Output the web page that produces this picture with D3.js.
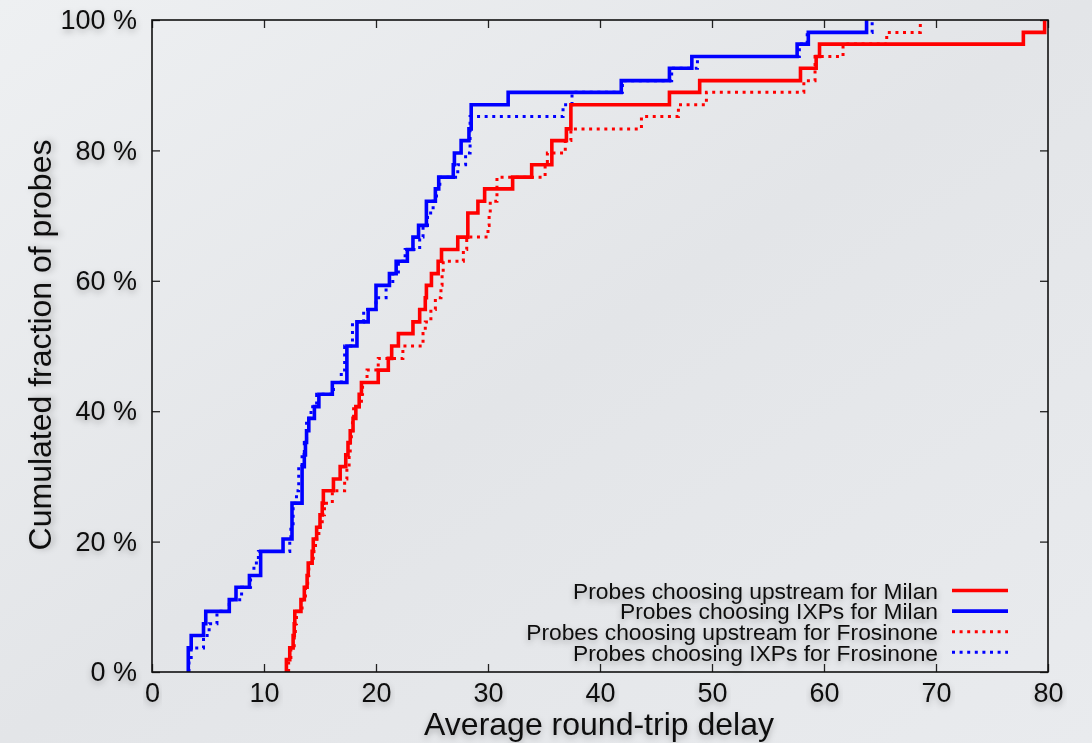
<!DOCTYPE html>
<html>
<head>
<meta charset="utf-8">
<script src="https://cdn.jsdelivr.net/npm/d3@7"></script>
<style>
  body { margin: 0; background: #e8eaed; }
  text { font-family: "Liberation Sans", Arial, Helvetica, sans-serif; fill: #111; }
</style>
</head>
<body>
<svg id="chart" width="1092" height="743"></svg>
<script>
// delays (ms) at which each CDF steps up, and the cumulated % after that step
var milanUpDelay = [12.0, 12.3, 12.6, 12.7, 12.75, 13.3, 13.6, 13.85, 13.95, 14.3, 14.4, 14.7, 15.0, 15.2, 15.3, 16.2, 16.8, 17.3, 17.5, 17.7, 17.95, 18.2, 18.5, 18.7, 20.2, 21.1, 21.4, 22.0, 23.3, 23.9, 24.4, 24.5, 24.95, 25.55, 25.85, 27.3, 28.2, 29.1, 29.7, 32.2, 33.9, 35.7, 37.0, 37.4, 46.2, 48.9, 57.9, 59.3, 59.6, 77.8, 79.7];
var milanUpCdf   = [1.9, 3.7, 5.6, 7.4, 9.3, 11.1, 13.0, 14.8, 16.7, 18.5, 20.4, 22.2, 24.1, 25.9, 27.8, 29.6, 31.5, 33.3, 35.2, 37.0, 38.9, 40.7, 42.6, 44.4, 46.3, 48.1, 50.0, 51.9, 53.7, 55.6, 57.4, 59.3, 61.1, 63.0, 64.8, 66.7, 70.4, 72.2, 74.1, 75.9, 77.8, 81.5, 83.3, 87.0, 88.9, 90.7, 92.6, 94.4, 96.3, 98.1, 100];

var milanIxpDelay = [3.24, 3.5, 4.6, 4.8, 6.9, 7.5, 8.7, 9.7, 11.7, 12.5, 13.4, 13.6, 13.7, 13.8, 14.0, 14.5, 14.9, 16.1, 17.4, 18.3, 19.3, 20.0, 21.2, 21.8, 22.8, 23.3, 23.8, 24.5, 25.3, 25.6, 26.9, 27.0, 27.6, 28.3, 28.5, 31.8, 41.9, 46.2, 48.2, 57.6, 58.6, 63.8];
var milanIxpCdf   = [3.7, 5.6, 7.4, 9.3, 11.1, 13.0, 14.8, 18.5, 20.4, 25.9, 31.5, 33.3, 35.2, 37.0, 38.9, 40.7, 42.6, 44.4, 50.0, 53.7, 55.6, 59.3, 61.1, 63.0, 64.8, 66.7, 68.5, 72.2, 74.1, 75.9, 77.8, 79.6, 81.5, 83.3, 87.0, 88.9, 90.7, 92.6, 94.4, 96.3, 98.1, 100];

var frosUpDelay = [12.2, 12.4, 12.7, 12.8, 12.9, 13.4, 13.7, 13.9, 14.0, 14.4, 14.6, 14.9, 15.2, 15.4, 16.1, 17.2, 17.4, 17.6, 17.7, 17.8, 17.9, 18.0, 18.7, 18.8, 19.2, 20.2, 22.4, 24.2, 24.4, 24.9, 25.3, 25.8, 25.9, 26.0, 27.8, 28.1, 30.0, 30.1, 30.2, 30.8, 35.1, 35.3, 36.9, 37.4, 43.7, 47.0, 49.5, 58.2, 59.2, 61.7, 65.6, 68.6];
var frosUpCdf   = [1.9, 3.7, 5.6, 7.4, 9.3, 11.1, 13.0, 14.8, 16.7, 18.5, 20.4, 22.2, 24.1, 25.9, 27.8, 29.6, 31.5, 33.3, 35.2, 37.0, 38.9, 40.7, 42.6, 44.4, 46.3, 48.1, 50.0, 51.9, 53.7, 55.6, 57.4, 59.3, 61.1, 63.0, 64.8, 66.7, 68.5, 70.4, 72.2, 75.9, 77.8, 79.6, 81.5, 83.3, 85.2, 87.0, 88.9, 90.7, 94.4, 96.3, 98.1, 100];

var frosIxpDelay = [3.3, 3.5, 4.6, 5.1, 5.8, 6.9, 8.0, 8.8, 9.1, 9.5, 12.3, 12.4, 12.6, 12.9, 13.1, 13.4, 13.6, 13.8, 14.2, 14.7, 16.2, 16.9, 17.2, 17.9, 18.9, 20.0, 20.9, 21.5, 22.0, 22.6, 23.9, 24.2, 24.6, 25.1, 25.4, 25.7, 27.3, 28.0, 28.4, 36.7, 37.5, 42.0, 46.4, 48.7, 57.8, 58.5, 64.3];
var frosIxpCdf   = [1.9, 3.7, 5.6, 7.4, 9.3, 11.1, 13.0, 14.8, 16.7, 18.5, 20.4, 22.2, 25.9, 27.8, 31.5, 33.3, 35.2, 38.9, 40.7, 42.6, 44.4, 46.3, 50.0, 53.7, 55.6, 57.4, 59.3, 61.1, 63.0, 64.8, 66.7, 68.5, 70.4, 72.2, 74.1, 75.9, 77.8, 79.6, 85.2, 87.0, 88.9, 90.7, 92.6, 94.4, 96.3, 98.1, 100];

var xTicks = [0, 10, 20, 30, 40, 50, 60, 70, 80];
var yTicks = [0, 20, 40, 60, 80, 100];
var yTickLabels = ["0 %", "20 %", "40 %", "60 %", "80 %", "100 %"];

var seriesNames = ["Probes choosing upstream for Milan", "Probes choosing IXPs for Milan",
                   "Probes choosing upstream for Frosinone", "Probes choosing IXPs for Frosinone"];
var seriesColors = ["#ff0000", "#0000ff", "#ff0000", "#0000ff"];
var seriesDotted = [false, false, true, true];
var seriesDelays = [milanUpDelay, milanIxpDelay, frosUpDelay, frosIxpDelay];
var seriesCdfs = [milanUpCdf, milanIxpCdf, frosUpCdf, frosIxpCdf];

var W = 1092, H = 743;
var margin = {left: 152, right: 44, top: 20, bottom: 71};
var pw = W - margin.left - margin.right, ph = H - margin.top - margin.bottom;

var svg = d3.select("#chart");
var defs = svg.append("defs");

var grad = defs.append("linearGradient").attr("id", "bg")
    .attr("x1", "0").attr("y1", "0").attr("x2", "1").attr("y2", "1");
grad.append("stop").attr("offset", "0%").attr("stop-color", "#eef0f2");
grad.append("stop").attr("offset", "50%").attr("stop-color", "#e3e5e8");
grad.append("stop").attr("offset", "100%").attr("stop-color", "#e9ebee");

var shadow = defs.append("filter").attr("id", "ts")
    .attr("x", "-10%").attr("y", "-40%").attr("width", "120%").attr("height", "200%");
shadow.append("feDropShadow").attr("dx", 0).attr("dy", 3).attr("stdDeviation", 3)
    .attr("flood-color", "#000").attr("flood-opacity", 0.28);

defs.append("clipPath").attr("id", "clip").append("rect")
    .attr("x", 0).attr("y", -3).attr("width", pw + 2).attr("height", ph + 3);

svg.append("rect").attr("width", W).attr("height", H).attr("fill", "url(#bg)");

var g = svg.append("g").attr("transform", "translate(" + margin.left + "," + margin.top + ")");

var x = d3.scaleLinear().domain([0, 80]).range([0, pw]);
var y = d3.scaleLinear().domain([0, 100]).range([ph, 0]);

// axes, ticks pointing inward on all 4 sides
g.append("g").attr("transform", "translate(0," + ph + ")")
    .call(d3.axisBottom(x).tickValues(xTicks).tickSizeInner(-8).tickSizeOuter(0).tickPadding(11));
g.append("g")
    .call(d3.axisLeft(y).tickValues(yTicks).tickFormat(function (d, i) { return yTickLabels[i]; })
      .tickSizeInner(-8).tickSizeOuter(0).tickPadding(15));
g.append("g").call(d3.axisTop(x).tickValues(xTicks).tickSizeInner(-8).tickSizeOuter(0).tickFormat(""));
g.append("g").attr("transform", "translate(" + pw + ",0)")
    .call(d3.axisRight(y).tickValues(yTicks).tickSizeInner(-8).tickSizeOuter(0).tickFormat(""));

g.selectAll(".domain").remove();
g.selectAll(".tick line").attr("stroke", "#222").attr("stroke-width", 1.3);
g.selectAll(".tick text").attr("font-size", 27).attr("fill", "#111")
    .attr("font-family", "'Liberation Sans', Arial, sans-serif").attr("filter", "url(#ts)");

var line = d3.line().x(function (d) { return x(d[0]); }).y(function (d) { return y(d[1]); })
    .curve(d3.curveStepAfter);

var plot = g.append("g").attr("clip-path", "url(#clip)");
[2, 3, 0, 1].forEach(function (i) {
  var d = seriesDelays[i], c = seriesCdfs[i];
  var pts = [[d[0], 0]];
  for (var k = 0; k < d.length; k++) pts.push([d[k], c[k]]);
  plot.append("path").attr("d", line(pts))
    .attr("fill", "none")
    .attr("stroke", seriesColors[i])
    .attr("stroke-width", seriesDotted[i] ? 3 : 3.6)
    .attr("stroke-dasharray", seriesDotted[i] ? "3,4.6" : null)
    .attr("stroke-linejoin", "miter");
});

// frame
g.append("rect").attr("width", pw).attr("height", ph)
    .attr("fill", "none").attr("stroke", "#111").attr("stroke-width", 1.6);

// legend: rows are tight in the original, so lines of text sit close together
var legend = g.append("g").attr("transform", "translate(0," + (590.5 - margin.top) + ")");
seriesNames.forEach(function (name, i) {
  var row = legend.append("g").attr("transform", "translate(0," + (i * 20.6) + ")");
  row.append("text").attr("x", 938 - margin.left).attr("y", 0).attr("dy", "0.36em")
    .attr("text-anchor", "end").attr("font-size", 22.8).attr("filter", "url(#ts)").text(name);
  row.append("line").attr("x1", 952 - margin.left).attr("x2", 1008 - margin.left)
    .attr("y1", 0).attr("y2", 0)
    .attr("stroke", seriesColors[i])
    .attr("stroke-width", seriesDotted[i] ? 3 : 3.6)
    .attr("stroke-dasharray", seriesDotted[i] ? "3,4.6" : null);
});

// axis titles
svg.append("text").attr("x", 599).attr("y", 735).attr("text-anchor", "middle")
    .attr("font-size", 32).attr("filter", "url(#ts)").text("Average round-trip delay");
svg.append("text").attr("transform", "translate(51,345) rotate(-90)").attr("text-anchor", "middle")
    .attr("font-size", 32).attr("filter", "url(#ts)").text("Cumulated fraction of probes");
</script>
</body>
</html>
